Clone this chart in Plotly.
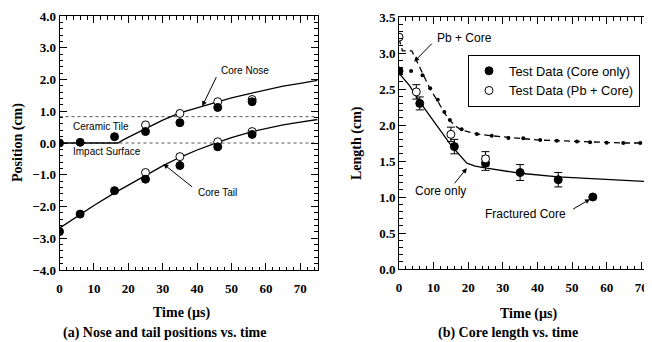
import plotly.graph_objects as go

# ---------------- Data: (a) Nose and tail positions ----------------
time_nose_filled = [0, 6, 16, 25, 35, 46, 56]
pos_nose_filled = [0.0, 0.02, 0.2, 0.36, 0.64, 1.12, 1.30]
time_nose_open = [25, 35, 46, 56]
pos_nose_open = [0.57, 0.93, 1.30, 1.37]

time_tail_filled = [0, 6, 16, 25, 35, 46, 56]
pos_tail_filled = [-2.79, -2.24, -1.50, -1.14, -0.71, -0.12, 0.27]
time_tail_open = [25, 35, 46, 56]
pos_tail_open = [-0.93, -0.43, 0.04, 0.36]

nose_curve_t = [0, 17, 18.5, 25, 30, 35, 41.5, 46, 50, 55, 60, 65, 70, 75]
nose_curve_y = [0.0, 0.0, 0.1, 0.45, 0.72, 0.95, 1.16, 1.30, 1.42, 1.55, 1.68, 1.79, 1.88, 1.97]
tail_curve_t = [0, 6, 10, 16, 20, 25, 30, 35, 40, 46, 50, 56, 60, 65, 70, 75]
tail_curve_y = [-2.68, -2.25, -1.97, -1.57, -1.32, -1.03, -0.72, -0.45, -0.22, 0.02, 0.17, 0.36, 0.46, 0.57, 0.66, 0.74]

ref_t = [0, 75]
impact_surface = [0.0, 0.0]
ceramic_tile = [0.83, 0.83]

# ---------------- Data: (b) Core length ----------------
time_core = [0, 6, 16, 25, 35, 46, 56]
len_core = [2.75, 2.30, 1.70, 1.47, 1.34, 1.24, 1.00]
err_core = [0, 0.09, 0.1, 0.1, 0.11, 0.1, 0]
time_pb = [0, 5, 15, 25]
len_pb = [3.22, 2.46, 1.87, 1.53]
err_pb = [0, 0.1, 0.1, 0.1]

core_curve_t = [0, 3, 6, 10, 15, 19.6, 22, 25.3, 35, 46, 59, 73.2]
core_curve_y = [2.72, 2.55, 2.32, 2.05, 1.72, 1.47, 1.43, 1.40, 1.33, 1.28, 1.245, 1.21]

pb_curve_t = [0, 1.0, 3.7, 6.8, 9.0, 11.2, 13.1, 14.7, 16.5, 18.1, 22.5, 26.8, 31.6, 35.9, 40.8, 45.6, 51.4, 55.2, 60.0, 64.8, 69.7, 73.2]
pb_curve_y = [3.2, 3.03, 3.03, 2.71, 2.50, 2.33, 2.17, 2.06, 1.98, 1.93, 1.875, 1.85, 1.825, 1.81, 1.79, 1.78, 1.77, 1.76, 1.755, 1.75, 1.75, 1.745]
pb_dots_t = [3.5, 6.8, 9.0, 11.2, 13.1, 14.7, 18.1, 22.5, 26.8, 31.6, 35.9, 40.8, 45.6, 51.4, 55.2, 60.0, 64.8, 69.7]
pb_dots_y = [2.75, 2.69, 2.51, 2.35, 2.18, 2.07, 1.94, 1.875, 1.85, 1.82, 1.815, 1.79, 1.78, 1.77, 1.76, 1.755, 1.75, 1.75]

x_ticks = [0, 10, 20, 30, 40, 50, 60, 70]
y_ticks_a = [-4, -3, -2, -1, 0, 1, 2, 3, 4]
y_ticks_b = [0, 0.5, 1.0, 1.5, 2.0, 2.5, 3.0, 3.5]

SERIF = "Liberation Serif"
SANS = "Liberation Sans"

# The page body has an 8px margin, so the figure is laid out 8px smaller
W, H, OFF = 644, 334, 8
def px(xr):
    return (xr - OFF) / W
def py(yr):
    return 1 - (yr - OFF) / H

fig = go.Figure()

line = dict(color="black", width=1.3)
filled = dict(color="black", size=8, line=dict(color="black", width=1))
opened = dict(color="white", size=8, line=dict(color="black", width=1))

# ---- panel (a) ----
for yv in (impact_surface, ceramic_tile):
    fig.add_trace(go.Scatter(x=ref_t, y=yv, mode="lines", xaxis="x", yaxis="y",
                             line=dict(color="#555", width=1, dash="dot"), showlegend=False))
fig.add_trace(go.Scatter(x=nose_curve_t, y=nose_curve_y, mode="lines", line=line, showlegend=False))
fig.add_trace(go.Scatter(x=tail_curve_t, y=tail_curve_y, mode="lines", line=line, showlegend=False))
fig.add_trace(go.Scatter(x=time_nose_open, y=pos_nose_open, mode="markers", marker=opened, showlegend=False))
fig.add_trace(go.Scatter(x=time_tail_open, y=pos_tail_open, mode="markers", marker=opened, showlegend=False))
fig.add_trace(go.Scatter(x=time_nose_filled, y=pos_nose_filled, mode="markers", marker=filled, showlegend=False))
fig.add_trace(go.Scatter(x=time_tail_filled, y=pos_tail_filled, mode="markers", marker=filled, showlegend=False))

# ---- panel (b) ----
fig.add_trace(go.Scatter(x=core_curve_t, y=core_curve_y, mode="lines", xaxis="x2", yaxis="y2",
                         line=line, showlegend=False))
fig.add_trace(go.Scatter(x=pb_curve_t, y=pb_curve_y, mode="lines", xaxis="x2", yaxis="y2",
                         line=dict(color="black", width=1.3, dash="6px,4px"), showlegend=False))
fig.add_trace(go.Scatter(x=pb_dots_t, y=pb_dots_y, mode="markers", xaxis="x2", yaxis="y2",
                         marker=dict(color="black", size=4), showlegend=False))
fig.add_trace(go.Scatter(x=time_core, y=len_core, mode="markers", xaxis="x2", yaxis="y2",
                         marker=filled, name="Test Data (Core only)",
                         error_y=dict(type="data", array=err_core, color="black", thickness=1, width=4)))
fig.add_trace(go.Scatter(x=time_pb, y=len_pb, mode="markers", xaxis="x2", yaxis="y2",
                         marker=opened, name="Test Data (Pb + Core)",
                         error_y=dict(type="data", array=err_pb, color="black", thickness=1, width=4)))

tickfont = dict(family=SERIF, size=13, color="black", weight="bold")
common = dict(showline=True, linecolor="black", linewidth=1, mirror="ticks", ticks="inside",
              ticklen=7, tickwidth=1, tickcolor="black", showgrid=False, zeroline=False,
              tickfont=tickfont, automargin=False, ticklabeloverflow="allow")

fig.update_layout(
    width=W, height=H, margin=dict(l=0, r=0, t=0, b=0, autoexpand=False),
    paper_bgcolor="white", plot_bgcolor="white",
    xaxis=dict(domain=[px(59.5), px(317.5)], range=[0, 75], tickvals=x_ticks,
               anchor="y", ticklabelstandoff=6,
               minor=dict(dtick=2, ticklen=3.5, ticks="inside", tickcolor="black"), **common),
    yaxis=dict(domain=[py(270), py(16)], range=[-4, 4], tickvals=y_ticks_a,
               tickformat=".1f", anchor="x",
               minor=dict(dtick=0.2, ticklen=3.5, ticks="inside", tickcolor="black"), **common),
    xaxis2=dict(domain=[px(399), 1.0], range=[0, 73.1], tickvals=x_ticks,
                anchor="y2", ticklabelstandoff=6,
                minor=dict(dtick=2, ticklen=3.5, ticks="inside", tickcolor="black"), **common),
    yaxis2=dict(domain=[py(269), py(17)], range=[0, 3.5], tickvals=y_ticks_b,
                tickformat=".1f", anchor="x2",
                minor=dict(dtick=0.1, ticklen=3.5, ticks="inside", tickcolor="black"), **common),
    legend=dict(x=px(468), y=py(55), xanchor="left", yanchor="top",
                bordercolor="black", borderwidth=1, bgcolor="white",
                font=dict(family=SANS, size=12.8, color="black"), tracegroupgap=0,
                itemwidth=30),
)

ann = []
def txt(x, y, s, xref, yref, size, family=SANS, xanchor="left", angle=0, bold=False):
    ann.append(dict(x=x, y=y, xref=xref, yref=yref,
                    text=("<b>" + s + "</b>") if bold else s, showarrow=False,
                    xanchor=xanchor, yanchor="middle", textangle=angle,
                    font=dict(family=family, size=size, color="black")))

def arrow(x0, y0, x1, y1, xr, yr):
    ann.append(dict(x=x1, y=y1, ax=x0, ay=y0, xref=xr, yref=yr, axref=xr, ayref=yr,
                    text="", showarrow=True, arrowhead=2, arrowsize=1, arrowwidth=1,
                    arrowcolor="black"))

# panel (a) labels
txt(46.5, 2.27, "Core Nose", "x", "y", 10)
arrow(45.8, 2.12, 41.5, 1.16, "x", "y")
txt(3.2, 0.53, "Ceramic Tile", "x", "y", 10)
txt(3.2, -0.27, "Impact Surface", "x", "y", 10)
txt(39.8, -1.57, "Core Tail", "x", "y", 10)
arrow(39.0, -1.42, 30.2, -0.66, "x", "y")

# panel (b) labels
txt(10.4, 3.21, "Pb + Core", "x2", "y2", 12)
arrow(9.9, 3.15, 4.4, 2.88, "x2", "y2")
txt(4.0, 1.08, "Core only", "x2", "y2", 12)
arrow(15.7, 1.17, 19.6, 1.40, "x2", "y2")
txt(24.3, 0.77, "Fractured Core", "x2", "y2", 12)
arrow(49.9, 0.82, 55.2, 0.97, "x2", "y2")

# axis titles and captions
txt(0.0, py(143), "Position (cm)", "paper", "paper", 14, SERIF, "left", -90, True)
txt(px(182), py(313), "Time (µs)", "paper", "paper", 14, SERIF, "center", 0, True)
txt(px(164), py(332.7), "(a) Nose and tail positions vs. time", "paper", "paper", 14, SERIF, "center", 0, True)
txt(px(357), py(143), "Length (cm)", "paper", "paper", 14, SERIF, "center", -90, True)
txt(px(529), py(314), "Time (µs)", "paper", "paper", 14, SERIF, "center", 0, True)
txt(px(507.5), py(333.3), "(b) Core length vs. time", "paper", "paper", 14, SERIF, "center", 0, True)

fig.update_layout(annotations=ann)

fig.write_html("out.html")
